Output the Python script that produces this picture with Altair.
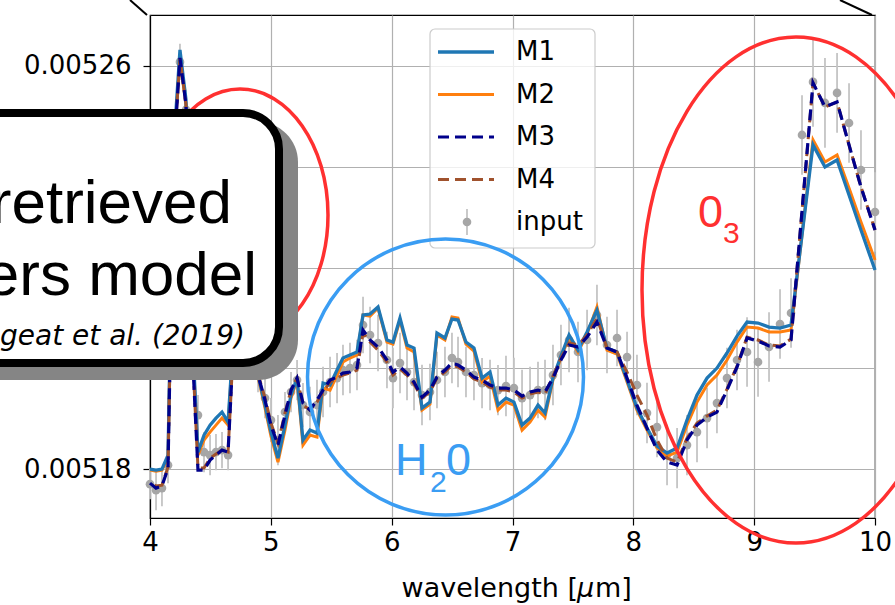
import altair as alt
import pandas as pd

# ---------------------------------------------------------------- data
wavelength = [
    4.000, 4.050, 4.099, 4.149, 4.199, 4.248, 4.298, 4.348, 4.397, 4.447,
    4.497, 4.546, 4.596, 4.646, 4.695, 4.745, 4.794, 4.844, 4.894, 4.952,
    5.001, 5.059, 5.117, 5.167, 5.217, 5.266, 5.324, 5.382, 5.432, 5.490,
    5.548, 5.597, 5.655, 5.713, 5.763, 5.821, 5.887, 5.961, 6.011, 6.069,
    6.127, 6.185, 6.251, 6.317, 6.375, 6.441, 6.499, 6.549, 6.615, 6.681,
    6.748, 6.814, 6.880, 6.946, 7.012, 7.079, 7.145, 7.211, 7.269, 7.335,
    7.401, 7.468, 7.542, 7.617, 7.699, 7.782, 7.865, 7.948, 8.030, 8.113,
    8.196, 8.279, 8.362, 8.444, 8.527, 8.610, 8.692, 8.775, 8.858, 8.941,
    9.032, 9.123, 9.214, 9.305, 9.396, 9.487, 9.586, 9.686, 9.785, 9.884,
    10.000,
]

m1 = [
    5.18000e-3, 5.17980e-3, 5.18000e-3, 5.18278e-3, 5.24531e-3, 5.26318e-3, 5.25325e-3, 5.20759e-3, 5.18338e-3, 5.18675e-3,
    5.18873e-3, 5.19012e-3, 5.19132e-3, 5.18933e-3, 5.20759e-3, 5.22347e-3, 5.22546e-3, 5.21553e-3, 5.19866e-3, 5.19271e-3,
    5.18735e-3, 5.18218e-3, 5.18873e-3, 5.19469e-3, 5.19806e-3, 5.18576e-3, 5.18774e-3, 5.18715e-3, 5.19707e-3, 5.19668e-3,
    5.19965e-3, 5.20204e-3, 5.20263e-3, 5.20323e-3, 5.21057e-3, 5.21077e-3, 5.21216e-3, 5.20561e-3, 5.20521e-3, 5.20998e-3,
    5.20462e-3, 5.20402e-3, 5.19211e-3, 5.19330e-3, 5.20700e-3, 5.20601e-3, 5.20978e-3, 5.20958e-3, 5.20521e-3, 5.20402e-3,
    5.19806e-3, 5.19926e-3, 5.19271e-3, 5.19409e-3, 5.19330e-3, 5.18873e-3, 5.19012e-3, 5.19271e-3, 5.19112e-3, 5.19806e-3,
    5.20243e-3, 5.20660e-3, 5.20362e-3, 5.20720e-3, 5.21156e-3, 5.20402e-3, 5.20323e-3, 5.19767e-3, 5.19211e-3, 5.18814e-3,
    5.18457e-3, 5.18318e-3, 5.18417e-3, 5.18973e-3, 5.19469e-3, 5.19806e-3, 5.20005e-3, 5.20303e-3, 5.20640e-3, 5.20918e-3,
    5.20898e-3, 5.20819e-3, 5.20799e-3, 5.20859e-3, 5.22645e-3, 5.24432e-3, 5.23995e-3, 5.24134e-3, 5.23439e-3, 5.22744e-3,
    5.21950e-3,
]

m2 = [
    5.17980e-3, 5.17960e-3, 5.17980e-3, 5.18218e-3, 5.24432e-3, 5.26119e-3, 5.25226e-3, 5.20660e-3, 5.18278e-3, 5.18576e-3,
    5.18735e-3, 5.18873e-3, 5.19012e-3, 5.18873e-3, 5.20720e-3, 5.22308e-3, 5.22506e-3, 5.21514e-3, 5.19826e-3, 5.19211e-3,
    5.18655e-3, 5.18139e-3, 5.18774e-3, 5.19409e-3, 5.19767e-3, 5.18476e-3, 5.18675e-3, 5.18635e-3, 5.19608e-3, 5.19568e-3,
    5.19866e-3, 5.20124e-3, 5.20204e-3, 5.20263e-3, 5.21057e-3, 5.21037e-3, 5.21196e-3, 5.20521e-3, 5.20481e-3, 5.20958e-3,
    5.20402e-3, 5.20323e-3, 5.19171e-3, 5.19290e-3, 5.20660e-3, 5.20561e-3, 5.21017e-3, 5.20998e-3, 5.20481e-3, 5.20342e-3,
    5.19727e-3, 5.19846e-3, 5.19171e-3, 5.19330e-3, 5.19271e-3, 5.18774e-3, 5.18933e-3, 5.19171e-3, 5.19032e-3, 5.19767e-3,
    5.20204e-3, 5.20620e-3, 5.20323e-3, 5.20680e-3, 5.21216e-3, 5.20362e-3, 5.20283e-3, 5.19727e-3, 5.19171e-3, 5.18774e-3,
    5.18417e-3, 5.18258e-3, 5.18338e-3, 5.18873e-3, 5.19330e-3, 5.19668e-3, 5.19866e-3, 5.20164e-3, 5.20521e-3, 5.20819e-3,
    5.20799e-3, 5.20720e-3, 5.20720e-3, 5.20759e-3, 5.22645e-3, 5.24531e-3, 5.24094e-3, 5.24233e-3, 5.23578e-3, 5.22903e-3,
    5.22149e-3,
]

m3 = [
    5.17722e-3, 5.17623e-3, 5.17663e-3, 5.18020e-3, 5.24333e-3, 5.26159e-3, 5.25226e-3, 5.20462e-3, 5.17980e-3, 5.17980e-3,
    5.18179e-3, 5.18278e-3, 5.18377e-3, 5.18338e-3, 5.20660e-3, 5.22248e-3, 5.22447e-3, 5.21454e-3, 5.19866e-3, 5.19370e-3,
    5.18873e-3, 5.18476e-3, 5.19072e-3, 5.19568e-3, 5.19806e-3, 5.19310e-3, 5.19171e-3, 5.19370e-3, 5.19568e-3, 5.19767e-3,
    5.19826e-3, 5.19906e-3, 5.19926e-3, 5.20005e-3, 5.20759e-3, 5.20561e-3, 5.20422e-3, 5.20164e-3, 5.19926e-3, 5.20025e-3,
    5.19906e-3, 5.19727e-3, 5.19429e-3, 5.19568e-3, 5.19826e-3, 5.19965e-3, 5.20104e-3, 5.20065e-3, 5.19965e-3, 5.19826e-3,
    5.19767e-3, 5.19668e-3, 5.19608e-3, 5.19608e-3, 5.19568e-3, 5.19449e-3, 5.19529e-3, 5.19568e-3, 5.19529e-3, 5.19806e-3,
    5.20164e-3, 5.20462e-3, 5.20422e-3, 5.20620e-3, 5.20918e-3, 5.20402e-3, 5.20323e-3, 5.19806e-3, 5.19271e-3, 5.18814e-3,
    5.18377e-3, 5.18139e-3, 5.18079e-3, 5.18576e-3, 5.18873e-3, 5.19032e-3, 5.19132e-3, 5.19568e-3, 5.20025e-3, 5.20601e-3,
    5.20541e-3, 5.20442e-3, 5.20422e-3, 5.20561e-3, 5.23122e-3, 5.25663e-3, 5.25186e-3, 5.25285e-3, 5.24432e-3, 5.23598e-3,
    5.22744e-3,
]

m4 = [
    5.17762e-3, 5.17663e-3, 5.17682e-3, 5.18040e-3, 5.24372e-3, 5.26159e-3, 5.25226e-3, 5.20501e-3, 5.18020e-3, 5.18020e-3,
    5.18218e-3, 5.18298e-3, 5.18377e-3, 5.18338e-3, 5.20660e-3, 5.22248e-3, 5.22447e-3, 5.21454e-3, 5.19886e-3, 5.19409e-3,
    5.18913e-3, 5.18516e-3, 5.19112e-3, 5.19568e-3, 5.19806e-3, 5.19271e-3, 5.19171e-3, 5.19330e-3, 5.19529e-3, 5.19727e-3,
    5.19806e-3, 5.19866e-3, 5.19906e-3, 5.19965e-3, 5.20700e-3, 5.20521e-3, 5.20362e-3, 5.20124e-3, 5.19866e-3, 5.19985e-3,
    5.19866e-3, 5.19687e-3, 5.19409e-3, 5.19529e-3, 5.19806e-3, 5.19926e-3, 5.20065e-3, 5.20025e-3, 5.19926e-3, 5.19787e-3,
    5.19727e-3, 5.19628e-3, 5.19568e-3, 5.19568e-3, 5.19529e-3, 5.19409e-3, 5.19489e-3, 5.19529e-3, 5.19489e-3, 5.19846e-3,
    5.20204e-3, 5.20501e-3, 5.20462e-3, 5.20660e-3, 5.20998e-3, 5.20402e-3, 5.20323e-3, 5.19926e-3, 5.19469e-3, 5.19072e-3,
    5.18576e-3, 5.18218e-3, 5.18139e-3, 5.18615e-3, 5.18913e-3, 5.19052e-3, 5.19171e-3, 5.19588e-3, 5.20045e-3, 5.20620e-3,
    5.20561e-3, 5.20462e-3, 5.20442e-3, 5.20581e-3, 5.23122e-3, 5.25663e-3, 5.25186e-3, 5.25285e-3, 5.24432e-3, 5.23598e-3,
    5.22744e-3,
]

obs = [
    5.17702e-3, 5.17583e-3, 5.17623e-3, 5.18079e-3, 5.24333e-3, 5.26079e-3, 5.25127e-3, 5.20561e-3, 5.19072e-3, 5.18338e-3,
    5.18278e-3, 5.18338e-3, 5.18377e-3, 5.18278e-3, 5.20759e-3, 5.22347e-3, 5.22546e-3, 5.21553e-3, 5.19926e-3, 5.19409e-3,
    5.18973e-3, 5.18576e-3, 5.19132e-3, 5.19529e-3, 5.19767e-3, 5.19271e-3, 5.19132e-3, 5.19271e-3, 5.19529e-3, 5.19727e-3,
    5.19806e-3, 5.19965e-3, 5.20005e-3, 5.20065e-3, 5.20859e-3, 5.20660e-3, 5.20501e-3, 5.20164e-3, 5.19806e-3, 5.20104e-3,
    5.19926e-3, 5.19727e-3, 5.19469e-3, 5.19529e-3, 5.19767e-3, 5.19926e-3, 5.20204e-3, 5.20124e-3, 5.19926e-3, 5.19866e-3,
    5.19707e-3, 5.19668e-3, 5.19568e-3, 5.19648e-3, 5.19608e-3, 5.19409e-3, 5.19469e-3, 5.19568e-3, 5.19568e-3, 5.19866e-3,
    5.20263e-3, 5.20561e-3, 5.20323e-3, 5.20561e-3, 5.21057e-3, 5.20462e-3, 5.20601e-3, 5.20223e-3, 5.19668e-3, 5.19112e-3,
    5.18834e-3, 5.18278e-3, 5.18218e-3, 5.18476e-3, 5.18735e-3, 5.19012e-3, 5.19310e-3, 5.19806e-3, 5.20164e-3, 5.20323e-3,
    5.20124e-3, 5.20422e-3, 5.20878e-3, 5.21097e-3, 5.24630e-3, 5.25682e-3, 5.25265e-3, 5.25464e-3, 5.24868e-3, 5.23935e-3,
    5.23102e-3,
]

obs_err = [
    3.0e-6, 4.0e-6, 3.6e-6, 3.6e-6, 4.0e-6, 3.6e-6, 4.0e-6, 4.0e-6, 4.0e-6, 4.0e-6,
    4.0e-6, 3.6e-6, 3.6e-6, 3.0e-6, 4.0e-6, 4.0e-6, 4.0e-6, 4.0e-6, 4.0e-6, 4.0e-6,
    4.4e-6, 5.0e-6, 4.0e-6, 4.0e-6, 4.0e-6, 4.4e-6, 5.0e-6, 5.0e-6, 5.0e-6, 5.0e-6,
    5.0e-6, 5.0e-6, 5.0e-6, 5.0e-6, 5.6e-6, 5.6e-6, 5.6e-6, 5.6e-6, 6.0e-6, 6.0e-6,
    5.6e-6, 5.6e-6, 6.0e-6, 5.6e-6, 5.6e-6, 5.0e-6, 5.0e-6, 5.0e-6, 5.0e-6, 5.0e-6,
    5.0e-6, 5.0e-6, 5.0e-6, 6.0e-6, 6.0e-6, 5.6e-6, 5.6e-6, 5.6e-6, 6.0e-6, 6.0e-6,
    6.0e-6, 6.4e-6, 6.0e-6, 6.0e-6, 6.0e-6, 5.6e-6, 5.6e-6, 5.0e-6, 6.0e-6, 6.0e-6,
    6.0e-6, 6.0e-6, 6.0e-6, 6.0e-6, 6.0e-6, 6.0e-6, 6.0e-6, 6.0e-6, 6.0e-6, 6.9e-6,
    6.9e-6, 6.9e-6, 6.9e-6, 6.9e-6, 7.9e-6, 8.9e-6, 8.9e-6, 7.9e-6, 7.9e-6, 7.9e-6,
    7.9e-6,
]

series_names = ["M1", "M2", "M3", "M4"]
series_colors = ["#1f77b4", "#ff7f0e", "#00008b", "#a0522d"]
x_ticks = [4, 5, 6, 7, 8, 9, 10]
y_ticks = [0.00518, 0.00520, 0.00522, 0.00524, 0.00526]
y_labelled = ["0.00518", "0.00526"]   # the others sit under the caption box

# ---------------------------------------------------------------- layout
W, H = 725, 503          # plot area
LEFT, TOP = 150, 15      # plot origin on the page
FONT = "DejaVu Sans"
SANS = "Liberation Sans"


def px(x):
    return x - LEFT


def py(y):
    return y - TOP


one = pd.DataFrame({"k": [0]})

x_scale = alt.Scale(domain=[4, 10], nice=False, zero=False)
x_axis = alt.Axis(values=x_ticks, title=None, format="d",
                  labelPadding=4, labelFlush=False)
y_scale = alt.Scale(domain=[0.0051703, 0.0052701], nice=False, zero=False)
y_axis = alt.Axis(
    values=y_ticks, title=None, format=".5f", labelPadding=12, labelFlush=False,
    labelExpr="indexof(" + str(y_labelled) + ", datum.label) >= 0 ? datum.label : ''",
)

x_enc = alt.X("wl:Q", scale=x_scale, axis=x_axis)
y_enc = alt.Y("val:Q", scale=y_scale, axis=y_axis)

obs_df = pd.DataFrame({"wl": wavelength, "val": obs, "err": obs_err})
obs_df["lo"] = obs_df["val"] - obs_df["err"]
obs_df["hi"] = obs_df["val"] + obs_df["err"]

layers = []

# input spectrum: error bars and points
layers.append(
    alt.Chart(obs_df).mark_rule(color="#c4c4c4", strokeWidth=1.8).encode(
        x=x_enc, y=alt.Y("lo:Q", scale=y_scale, axis=y_axis), y2="hi:Q"
    )
)
layers.append(
    alt.Chart(obs_df).mark_circle(color="#a6a6a6", size=75, opacity=1).encode(
        x=x_enc, y=y_enc
    )
)

# retrieved models
values = {"M1": m1, "M2": m2, "M3": m3, "M4": m4}
styles = {
    "M2": dict(strokeWidth=3.0),
    "M1": dict(strokeWidth=3.3),
    "M4": dict(strokeWidth=3.0, strokeDash=[11, 6], strokeDashOffset=11),
    "M3": dict(strokeWidth=3.2, strokeDash=[11, 6]),
}
for name in ["M2", "M1", "M4", "M3"]:
    color = series_colors[series_names.index(name)]
    df = pd.DataFrame({"wl": wavelength, "val": values[name]})
    layers.append(
        alt.Chart(df).mark_line(color=color, **styles[name]).encode(x=x_enc, y=y_enc)
    )


def label(text, x, y, size, color, font=SANS, align="left", style="normal"):
    return alt.Chart(one).mark_text(
        text=text, font=font, fontSize=size, color=color, align=align,
        baseline="alphabetic", fontStyle=style,
    ).encode(x=alt.value(px(x)), y=alt.value(py(y)))


# x-axis title, with an italic mu
layers.append(label("wavelength [", 578, 597, 27, "black", font=FONT, align="right"))
layers.append(label("μ", 577, 597, 27, "black", font=FONT, style="italic"))
layers.append(label("m]", 595, 597, 27, "black", font=FONT))

# legend
layers.append(
    alt.Chart(one).mark_rect(fill="white", fillOpacity=0.8, stroke="#cccccc",
                             strokeWidth=1.2, cornerRadius=5).encode(
        x=alt.value(px(430)), x2=alt.value(px(595)),
        y=alt.value(py(29)), y2=alt.value(py(248)))
)
legend_rows = [52, 94.5, 137, 179.5, 222]
for i, name in enumerate(series_names + ["input"]):
    yc = py(legend_rows[i])
    if name == "input":
        layers.append(
            alt.Chart(one).mark_rule(color="#c4c4c4", strokeWidth=1.8).encode(
                x=alt.value(px(467)), y=alt.value(yc - 13), y2=alt.value(yc + 13))
        )
        layers.append(
            alt.Chart(one).mark_circle(color="#a6a6a6", size=75, opacity=1).encode(
                x=alt.value(px(467)), y=alt.value(yc))
        )
    else:
        st = dict(styles[name])
        st.pop("strokeDashOffset", None)
        layers.append(
            alt.Chart(one).mark_rule(color=series_colors[i], **st).encode(
                x=alt.value(px(438)), x2=alt.value(px(494)), y=alt.value(yc))
        )
    layers.append(
        alt.Chart(one).mark_text(text=name, font=FONT, fontSize=26, align="left",
                                 baseline="middle", color="black").encode(
            x=alt.value(px(516)), y=alt.value(yc))
    )


# absorption-band outlines
def ellipse_path(r, k=0.5523):
    return (f"M {r} 0 C {r} {k} {r * k} 1 0 1 C {-r * k} 1 {-r} {k} {-r} 0 "
            f"C {-r} {-k} {-r * k} -1 0 -1 C {r * k} -1 {r} {-k} {r} 0 Z")


def ellipse(cx, cy, a, b, color):
    return alt.Chart(one).mark_point(
        shape=ellipse_path(a / b), size=(2 * b) ** 2, filled=False,
        stroke=color, strokeWidth=3.5, opacity=1,
    ).encode(x=alt.value(px(cx)), y=alt.value(py(cy)))


RED, BLUE = "#ff3030", "#3a9df3"
layers.append(ellipse(240, 215, 88, 126, RED))
layers.append(ellipse(445.5, 377, 138, 138, BLUE))
layers.append(ellipse(796, 290, 154, 253, RED))

layers.append(label("0", 698, 227, 45, RED))
layers.append(label("3", 723, 243, 30, RED))
layers.append(label("H", 395, 475, 45, BLUE))
layers.append(label("2", 430, 492, 30, BLUE))
layers.append(label("0", 446, 475, 45, BLUE))

# caption box with drop shadow
layers.append(
    alt.Chart(one).mark_rect(fill="#858585", cornerRadius=40).encode(
        x=alt.value(px(-235)), x2=alt.value(px(298)),
        y=alt.value(py(122)), y2=alt.value(py(380)))
)
layers.append(
    alt.Chart(one).mark_rect(fill="white", stroke="black", strokeWidth=8,
                             cornerRadius=36).encode(
        x=alt.value(px(-250)), x2=alt.value(px(279)),
        y=alt.value(py(113)), y2=alt.value(py(363)))
)
layers.append(label("retrieved", 232, 223, 62, "black", align="right"))
layers.append(label("ers model", 257, 295, 62, "black", align="right"))
layers.append(label("geat et al. (2019)", 245, 345, 28, "black", font=FONT,
                    align="right", style="italic"))

# zoom connector lines
layers.append(
    alt.Chart(one).mark_rule(color="black", strokeWidth=2).encode(
        x=alt.value(px(130)), y=alt.value(py(0)),
        x2=alt.value(px(147)), y2=alt.value(py(15)))
)
layers.append(
    alt.Chart(one).mark_rule(color="black", strokeWidth=2).encode(
        x=alt.value(px(840)), y=alt.value(py(0)),
        x2=alt.value(px(872)), y2=alt.value(py(15)))
)

chart = (
    alt.layer(*layers)
    .properties(
        width=W, height=H,
        padding={"left": LEFT, "top": TOP, "right": 895 - LEFT - W, "bottom": 605 - TOP - H},
        autosize=alt.AutoSizeParams(type="none"),
        background="white",
    )
    .configure_view(stroke="black", strokeWidth=1.2)
    .configure_axis(
        grid=True, gridColor="#b0b0b0", gridWidth=1.2,
        domainColor="black", domainWidth=1.2,
        tickColor="black", tickSize=7, tickWidth=1.2,
        labelFont=FONT, labelFontSize=26, labelColor="black",
        zindex=0,
    )
)

chart.save("out.html", embed_options={"renderer": "svg", "actions": False})
